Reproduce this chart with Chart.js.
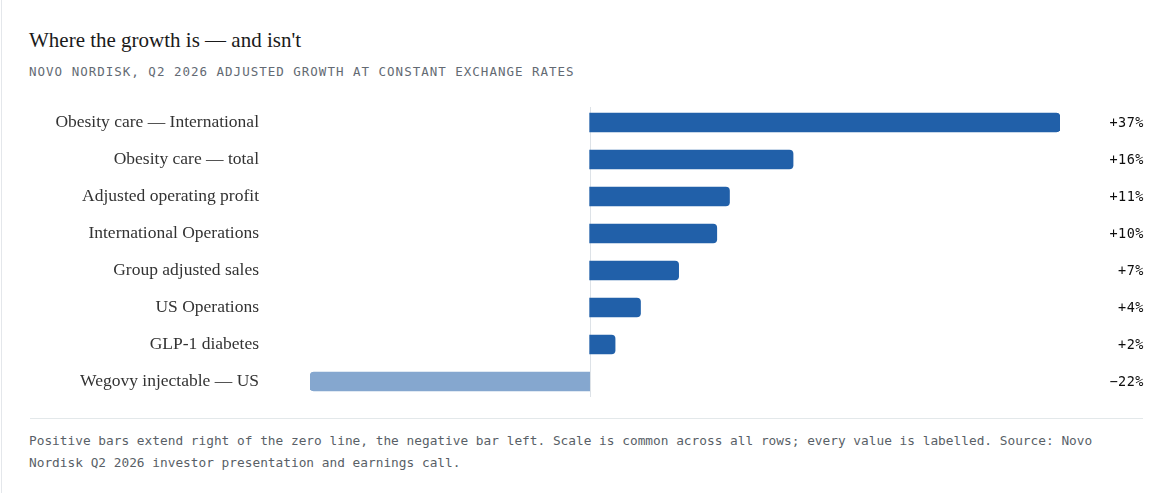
<!DOCTYPE html>
<html lang="en">
<head>
  <meta charset="UTF-8">
  <title>Where the growth is — and isn't</title>
  <script src="https://cdn.jsdelivr.net/npm/chart.js"></script>
  <style>
    html, body {
      margin: 0;
      padding: 0;
      background: #fff;
    }
    .card {
      position: absolute;
      left: 1px;
      top: 0;
      width: 1164px;
      height: 493px;
      border-left: 1px solid #e4e7eb;
    }
    .title {
      position: absolute;
      left: 27px;
      top: 27px;
      font-family: "Liberation Serif", serif;
      font-size: 21px;
      line-height: 26px;
      color: #1a1a1a;
      margin: 0;
      font-weight: normal;
    }
    .subtitle {
      position: absolute;
      left: 27px;
      top: 64px;
      font-family: "DejaVu Sans Mono", monospace;
      font-size: 12.5px;
      letter-spacing: 1px;
      line-height: 16px;
      color: #636a73;
    }
    .chart-box {
      position: absolute;
      left: 27px;
      top: 104px;
      width: 1115px;
      height: 296px;
    }
    .rule {
      position: absolute;
      left: 28px;
      top: 418px;
      width: 1113px;
      border-top: 1px solid #e3e8ea;
    }
    .note {
      position: absolute;
      left: 27px;
      top: 430px;
      width: 1113px;
      font-family: "DejaVu Sans Mono", monospace;
      font-size: 12.8px;
      line-height: 22px;
      color: #595f67;
    }
  </style>
</head>
<body>
  <div class="card">
    <h1 class="title">Where the growth is — and isn't</h1>
    <div class="subtitle">NOVO NORDISK, Q2 2026 ADJUSTED GROWTH AT CONSTANT EXCHANGE RATES</div>
    <div class="chart-box">
      <canvas id="growthChart" width="1115" height="296"></canvas>
    </div>
    <div class="rule"></div>
    <div class="note">Positive bars extend right of the zero line, the negative bar left. Scale is common across all rows; every value is labelled. Source: Novo Nordisk Q2 2026 investor presentation and earnings call.</div>
  </div>

  <script>
    // rows, top to bottom
    const categories = [
      'Obesity care — International',
      'Obesity care — total',
      'Adjusted operating profit',
      'International Operations',
      'Group adjusted sales',
      'US Operations',
      'GLP-1 diabetes',
      'Wegovy injectable — US'
    ];
    // growth in %, constant exchange rates
    const growth = [37, 16, 11, 10, 7, 4, 2, -22];
    const valueLabels = ['+37%', '+16%', '+11%', '+10%', '+7%', '+4%', '+2%', '\u221222%'];

    const posColor = '#2160a9';
    const negColor = '#85a7cf';

    // thin zero line behind the bars
    const zeroLine = {
      id: 'zeroLine',
      beforeDatasetsDraw(chart) {
        const ctx = chart.ctx;
        const area = chart.chartArea;
        const x = Math.round(chart.scales.x.getPixelForValue(0)) + 0.5;
        ctx.save();
        ctx.strokeStyle = '#dde2e7';
        ctx.lineWidth = 1;
        ctx.beginPath();
        ctx.moveTo(x, area.top + 3);
        ctx.lineTo(x, area.bottom - 3);
        ctx.stroke();
        ctx.restore();
      }
    };

    // value labels at the right edge
    const rightLabels = {
      id: 'rightLabels',
      afterDatasetsDraw(chart) {
        const ctx = chart.ctx;
        const meta = chart.getDatasetMeta(0);
        ctx.save();
        ctx.font = '13.5px "DejaVu Sans Mono", monospace';
        ctx.letterSpacing = '0.5px';
        ctx.fillStyle = '#0d0d0d';
        ctx.textAlign = 'right';
        ctx.textBaseline = 'middle';
        meta.data.forEach(function(bar, i) {
          ctx.fillText(valueLabels[i], chart.width, bar.y + 1);
        });
        ctx.restore();
      }
    };

    new Chart(document.getElementById('growthChart'), {
      type: 'bar',
      data: {
        labels: categories,
        datasets: [{
          data: growth,
          backgroundColor: growth.map(v => v < 0 ? negColor : posColor),
          barThickness: 19,
          borderRadius: 4,
          borderSkipped: 'start'
        }]
      },
      options: {
        indexAxis: 'y',
        responsive: false,
        animation: false,
        layout: { padding: { top: 0, bottom: 0, left: 0, right: 84 } },
        plugins: {
          legend: { display: false },
          tooltip: { enabled: false }
        },
        scales: {
          x: {
            min: -22,
            max: 37,
            display: false
          },
          y: {
            grid: { display: false, drawTicks: false },
            border: { display: false },
            ticks: {
              padding: 51,
              color: '#333',
              font: { family: '"Liberation Serif", serif', size: 17.5 }
            },
            afterFit(scale) {
              scale.width = 281;
              scale.paddingTop = 0;
              scale.paddingBottom = 0;
            }
          }
        }
      },
      plugins: [zeroLine, rightLabels]
    });
  </script>
</body>
</html>
